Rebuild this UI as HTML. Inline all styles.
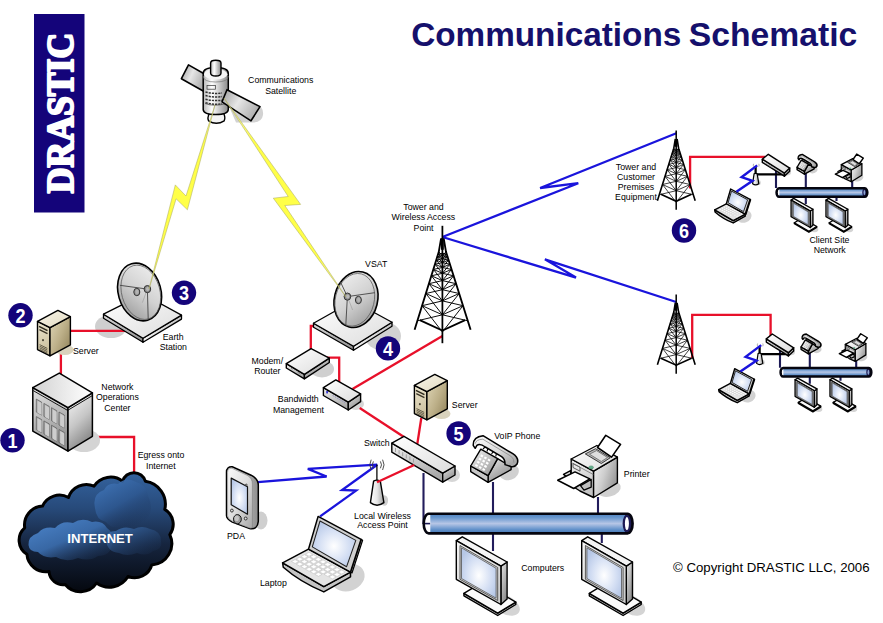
<!DOCTYPE html>
<html><head><meta charset="utf-8"><title>Communications Schematic</title>
<style>
html,body{margin:0;padding:0;background:#fff;}
svg{display:block}
text{font-family:"Liberation Sans",Arial,sans-serif;}
.lb{font-size:8.75px;fill:#000;text-anchor:middle}
.ls{font-size:8.75px;fill:#000;text-anchor:start}
.red{stroke:#e8102a;stroke-width:2.3;fill:none;stroke-linejoin:miter}
.blue{stroke:#1a14dc;stroke-width:2.3;fill:none;stroke-linejoin:miter}
.nv{stroke:#221c5c;stroke-width:2.1;fill:none}
.num{font-size:21px;font-weight:bold;fill:#fff;text-anchor:middle}
</style></head><body>
<svg width="883" height="623" viewBox="0 0 883 623">
<defs>
<linearGradient id="gTop" x1="0" y1="0" x2="1" y2="1"><stop offset="0" stop-color="#ffffff"/><stop offset="1" stop-color="#dcdcdc"/></linearGradient>
<linearGradient id="gL" x1="0" y1="0" x2="0.3" y2="1"><stop offset="0" stop-color="#f2f2f2"/><stop offset="1" stop-color="#a9a9a9"/></linearGradient>
<linearGradient id="gR" x1="0" y1="0" x2="0.6" y2="1"><stop offset="0" stop-color="#e8e8e8"/><stop offset="1" stop-color="#8c8c8c"/></linearGradient>
<linearGradient id="gSlabL" x1="0" y1="0" x2="1" y2="0"><stop offset="0" stop-color="#d8d8d8"/><stop offset="1" stop-color="#909090"/></linearGradient>
<linearGradient id="gSlabR" x1="0" y1="0" x2="1" y2="0"><stop offset="0" stop-color="#f4f4f4"/><stop offset="1" stop-color="#c4c4c4"/></linearGradient>
<linearGradient id="sTop" x1="0" y1="0" x2="1" y2="1"><stop offset="0" stop-color="#f8f5ea"/><stop offset="1" stop-color="#e2dac0"/></linearGradient>
<linearGradient id="sL" x1="0" y1="0" x2="0.2" y2="1"><stop offset="0" stop-color="#ece6d0"/><stop offset="1" stop-color="#cbbf9c"/></linearGradient>
<linearGradient id="sR" x1="0" y1="0" x2="1" y2="0.8"><stop offset="0" stop-color="#e0d7b8"/><stop offset="0.55" stop-color="#bdb089"/><stop offset="1" stop-color="#96885f"/></linearGradient>
<linearGradient id="gDish" x1="0" y1="1" x2="1" y2="0"><stop offset="0" stop-color="#8e8e8e"/><stop offset="0.5" stop-color="#d2d2d2"/><stop offset="1" stop-color="#f4f4f4"/></linearGradient>
<linearGradient id="gDish2" x1="0" y1="0" x2="1" y2="1"><stop offset="0" stop-color="#f4f4f4"/><stop offset="0.5" stop-color="#d2d2d2"/><stop offset="1" stop-color="#8e8e8e"/></linearGradient>
<linearGradient id="gPanel" x1="0" y1="0" x2="1" y2="0.5"><stop offset="0" stop-color="#9a9a9a"/><stop offset="0.5" stop-color="#e6e6e6"/><stop offset="1" stop-color="#b0b0b0"/></linearGradient>
<linearGradient id="gCyl" x1="0" y1="0" x2="1" y2="0"><stop offset="0" stop-color="#b8b8b8"/><stop offset="0.35" stop-color="#ffffff"/><stop offset="1" stop-color="#8a8a8a"/></linearGradient>
<linearGradient id="gBus" x1="0" y1="0" x2="0" y2="1"><stop offset="0" stop-color="#5082be"/><stop offset="0.2" stop-color="#6a98cf"/><stop offset="0.5" stop-color="#b6c6e6"/><stop offset="0.8" stop-color="#6291ca"/><stop offset="1" stop-color="#4677b4"/></linearGradient>
<linearGradient id="gBusS" x1="0" y1="0" x2="0" y2="1"><stop offset="0" stop-color="#3a588a"/><stop offset="0.5" stop-color="#8fa9d4"/><stop offset="1" stop-color="#34507f"/></linearGradient>
<radialGradient id="gScr" cx="0.5" cy="0.55" r="0.6"><stop offset="0" stop-color="#ffffff"/><stop offset="0.6" stop-color="#d3def3"/><stop offset="1" stop-color="#b6c7e6"/></radialGradient>
<linearGradient id="gCloud" x1="0" y1="0" x2="0" y2="1"><stop offset="0" stop-color="#34639f"/><stop offset="0.3" stop-color="#274a7a"/><stop offset="0.6" stop-color="#16253f"/><stop offset="1" stop-color="#05080f"/></linearGradient>
<linearGradient id="gCloudIn" x1="0.2" y1="0" x2="0.8" y2="1"><stop offset="0" stop-color="#4c7cba"/><stop offset="1" stop-color="#223d66"/></linearGradient>
<linearGradient id="gHand" x1="0" y1="0" x2="0.7" y2="1"><stop offset="0" stop-color="#fbfbfb"/><stop offset="0.6" stop-color="#dcdcdc"/><stop offset="1" stop-color="#a8a8a8"/></linearGradient>
<linearGradient id="gBez" x1="0" y1="0" x2="0.4" y2="1"><stop offset="0" stop-color="#f6f6f6"/><stop offset="1" stop-color="#cfcfcf"/></linearGradient>
<linearGradient id="gNocT" x1="0" y1="0.5" x2="1" y2="0.5"><stop offset="0" stop-color="#d2d2d2"/><stop offset="1" stop-color="#ffffff"/></linearGradient>
<linearGradient id="gNocL" x1="0" y1="0" x2="0.25" y2="1"><stop offset="0" stop-color="#e2e2e2"/><stop offset="0.5" stop-color="#bdbdbd"/><stop offset="1" stop-color="#8e8e8e"/></linearGradient>
<linearGradient id="gNocR" x1="0.2" y1="0" x2="0.6" y2="1"><stop offset="0" stop-color="#f4f4f4"/><stop offset="0.5" stop-color="#c6c6c6"/><stop offset="1" stop-color="#7e7e7e"/></linearGradient>
<linearGradient id="gPrL" x1="0" y1="0" x2="0.3" y2="1"><stop offset="0" stop-color="#f4f4f4"/><stop offset="1" stop-color="#c4c4c4"/></linearGradient>
<linearGradient id="gPrR" x1="0" y1="0.2" x2="1" y2="0.7"><stop offset="0" stop-color="#f0f0f0"/><stop offset="0.45" stop-color="#cdcdcd"/><stop offset="1" stop-color="#8f8f8f"/></linearGradient>
<linearGradient id="gPhone" x1="0" y1="0" x2="1" y2="1"><stop offset="0" stop-color="#f6f6f6"/><stop offset="1" stop-color="#8f8f8f"/></linearGradient>
<linearGradient id="gBeam" gradientUnits="userSpaceOnUse" x1="0" y1="98" x2="0" y2="298"><stop offset="0" stop-color="#f6f6c0"/><stop offset="0.22" stop-color="#ffff38"/><stop offset="0.8" stop-color="#ffff38"/><stop offset="1" stop-color="#f2f2b4"/></linearGradient>
<linearGradient id="gPda" x1="0" y1="0" x2="1" y2="1"><stop offset="0" stop-color="#fafafa"/><stop offset="0.5" stop-color="#dedede"/><stop offset="1" stop-color="#a8a8a8"/></linearGradient>
<linearGradient id="gPdaS" x1="0" y1="0" x2="1" y2="0"><stop offset="0" stop-color="#f0f0f0"/><stop offset="1" stop-color="#8e8e8e"/></linearGradient>
<linearGradient id="gCone" x1="0" y1="0" x2="1" y2="0"><stop offset="0" stop-color="#ffffff"/><stop offset="0.5" stop-color="#e6e6e6"/><stop offset="1" stop-color="#a0a0a0"/></linearGradient>
<linearGradient id="gCl1" x1="0" y1="0" x2="0.7" y2="1"><stop offset="0" stop-color="#4379bd"/><stop offset="0.55" stop-color="#2f5a94" stop-opacity="0.75"/><stop offset="1" stop-color="#17294a" stop-opacity="0"/></linearGradient>
<linearGradient id="gCl2" x1="0" y1="0" x2="0.9" y2="1"><stop offset="0" stop-color="#4d86cc"/><stop offset="0.5" stop-color="#3c6fb0" stop-opacity="0.9"/><stop offset="1" stop-color="#1c345a" stop-opacity="0.1"/></linearGradient>
<linearGradient id="gCl3" x1="0" y1="0" x2="1" y2="1"><stop offset="0" stop-color="#3f74b6" stop-opacity="0.95"/><stop offset="1" stop-color="#1c345a" stop-opacity="0.05"/></linearGradient>
</defs>
<rect width="883" height="623" fill="#fff"/>
<!-- banner -->
<rect x="34" y="14" width="50.5" height="198.5" fill="#14047a"/>
<text transform="translate(72.7,193.3) rotate(-90)" font-family="Liberation Serif,serif" style="font-family:'Liberation Serif',serif" font-weight="bold" font-size="38.6" fill="#fff" stroke="#fff" stroke-width="2.2" stroke-linejoin="round" textLength="160.5" lengthAdjust="spacingAndGlyphs">DRASTIC</text>
<!-- title -->
<text y="46.2" font-weight="bold" font-size="33.3" fill="#15106c"><tspan x="411.2">Communications </tspan><tspan x="688.7" textLength="168.6" lengthAdjust="spacingAndGlyphs">Schematic</tspan></text>
<ellipse cx="111" cy="326.5" rx="16" ry="11.5" fill="#cfcfcf" stroke="none" stroke-width="1" />
<ellipse cx="383" cy="336" rx="18" ry="14.5" fill="#d2d2d2" stroke="none" stroke-width="1" />
<ellipse cx="322" cy="369" rx="12" ry="8.5" fill="#d0d0d0" stroke="none" stroke-width="1" />
<ellipse cx="356" cy="404" rx="8" ry="6" fill="#d6d6d6" stroke="none" stroke-width="1" />
<ellipse cx="452" cy="475" rx="8" ry="7" fill="#d6d6d6" stroke="none" stroke-width="1" />
<!--LINES-->
<g class="red">
<path d="M70.6,330.8H126"/>
<path d="M60.9,350V375"/>
<path d="M90.6,437H134.1V472"/>
<path d="M314,326H310.8V350"/>
<path d="M326.7,357.6H339.2V382"/>
<path d="M352.5,389L442.4,336"/>
<path d="M359.7,408L404,437"/>
<path d="M421.3,418L417.3,444"/>
<path d="M690.1,188.5V156.9H765"/>
<path d="M692.2,358V314.8H770.6V337"/>
</g>
<g class="blue">
<path d="M442.4,237L578.3,183.2L540.1,188L676.3,133.2"/>
<path d="M442.4,237L576,277.6L544.9,259.3L676.2,302"/>
<path d="M257.8,482.1L326.6,476.5L307.8,468.9L377.2,464.7"/>
<path d="M320.1,516.4L356.1,490.6L342.1,490L377.2,464.7"/>
</g>
<g class="nv">
<path d="M423.5,473V524"/>
<path d="M493,482V513M493,534V551"/>
<path d="M598,497V513M601.8,534V543"/>
</g>
<g transform="translate(0,0)"><ellipse cx="64.6" cy="349.8" rx="9" ry="5.3" fill="#d9d3bd" stroke="none" stroke-width="1" /><polygon points="37.5,321.4 50,327.6 50,355.8 37.5,349.6" fill="url(#sL)" stroke="#000" stroke-width="1.4" stroke-linejoin="round" /><polygon points="50,327.6 70.4,316.7 70.4,344.9 50,355.8" fill="url(#sR)" stroke="#000" stroke-width="1.4" stroke-linejoin="round" /><polygon points="57.9,310.4 37.5,321.4 50,327.6 70.4,316.7" fill="url(#sTop)" stroke="#000" stroke-width="1.4" stroke-linejoin="round" /><polyline points="39,326.4 47.5,330.6" fill="none" stroke="#2e2a1e" stroke-width="1.6" /><polyline points="39.4,329.6 47.5,333.6" fill="none" stroke="#3a3426" stroke-width="1.3" /><ellipse cx="43" cy="340.2" rx="1" ry="1.1" fill="#4a4434" stroke="none" stroke-width="1" /><polyline points="39.6,344.6 47.3,348.4" fill="none" stroke="#4a4434" stroke-width="0.8" /><polyline points="39.6,346.2 47.3,350" fill="none" stroke="#4a4434" stroke-width="0.8" /><polyline points="39.6,347.8 47.3,351.6" fill="none" stroke="#4a4434" stroke-width="0.8" /><polyline points="39.6,349.4 47.3,353.2" fill="none" stroke="#4a4434" stroke-width="0.8" /></g>
<g transform="translate(376.9,64)"><ellipse cx="64.6" cy="349.8" rx="9" ry="5.3" fill="#d9d3bd" stroke="none" stroke-width="1" /><polygon points="37.5,321.4 50,327.6 50,355.8 37.5,349.6" fill="url(#sL)" stroke="#000" stroke-width="1.4" stroke-linejoin="round" /><polygon points="50,327.6 70.4,316.7 70.4,344.9 50,355.8" fill="url(#sR)" stroke="#000" stroke-width="1.4" stroke-linejoin="round" /><polygon points="57.9,310.4 37.5,321.4 50,327.6 70.4,316.7" fill="url(#sTop)" stroke="#000" stroke-width="1.4" stroke-linejoin="round" /><polyline points="39,326.4 47.5,330.6" fill="none" stroke="#2e2a1e" stroke-width="1.6" /><polyline points="39.4,329.6 47.5,333.6" fill="none" stroke="#3a3426" stroke-width="1.3" /><ellipse cx="43" cy="340.2" rx="1" ry="1.1" fill="#4a4434" stroke="none" stroke-width="1" /><polyline points="39.6,344.6 47.3,348.4" fill="none" stroke="#4a4434" stroke-width="0.8" /><polyline points="39.6,346.2 47.3,350" fill="none" stroke="#4a4434" stroke-width="0.8" /><polyline points="39.6,347.8 47.3,351.6" fill="none" stroke="#4a4434" stroke-width="0.8" /><polyline points="39.6,349.4 47.3,353.2" fill="none" stroke="#4a4434" stroke-width="0.8" /></g>
<ellipse cx="84" cy="440.5" rx="16" ry="11.5" fill="#d4d4d4" stroke="none" stroke-width="1" /><polygon points="32.8,387.6 68,407.6 68,451.1 32.8,431.1" fill="url(#gNocL)" stroke="#000" stroke-width="1.5" stroke-linejoin="round" /><polygon points="68,407.6 92.4,392.8 92.4,436.3 68,451.1" fill="url(#gNocR)" stroke="#000" stroke-width="1.5" stroke-linejoin="round" /><polygon points="59.3,373.1 32.8,387.6 68,407.6 92.4,392.8" fill="url(#gNocT)" stroke="#000" stroke-width="1.5" stroke-linejoin="round" /><polyline points="33.2,390.6 67.6,410.4 92,395.8" fill="none" stroke="#000" stroke-width="0.9" /><polygon points="36.3,399.1 41.6,402.1 41.6,415.1 36.3,412.1" fill="#a9a9a9" stroke="#5a5a5a" stroke-width="0.7" stroke-linejoin="round" /><polygon points="37.5,400.7 41.6,403.1 41.6,415.1 37.5,412.7" fill="#cdcdcd" stroke="none" stroke-width="0" stroke-linejoin="round" /><polygon points="43.9,403.4 49.2,406.4 49.2,419.4 43.9,416.4" fill="#a9a9a9" stroke="#5a5a5a" stroke-width="0.7" stroke-linejoin="round" /><polygon points="45.1,405 49.2,407.4 49.2,419.4 45.1,417" fill="#cdcdcd" stroke="none" stroke-width="0" stroke-linejoin="round" /><polygon points="51.5,407.7 56.7,410.7 56.7,423.7 51.5,420.7" fill="#a9a9a9" stroke="#5a5a5a" stroke-width="0.7" stroke-linejoin="round" /><polygon points="52.7,409.3 56.7,411.7 56.7,423.7 52.7,421.3" fill="#cdcdcd" stroke="none" stroke-width="0" stroke-linejoin="round" /><polygon points="59,412 64.3,415 64.3,428 59,425" fill="#a9a9a9" stroke="#5a5a5a" stroke-width="0.7" stroke-linejoin="round" /><polygon points="60.2,413.6 64.3,416 64.3,428 60.2,425.6" fill="#cdcdcd" stroke="none" stroke-width="0" stroke-linejoin="round" /><polygon points="36.3,416.6 41.6,419.6 41.6,432.6 36.3,429.6" fill="#a9a9a9" stroke="#5a5a5a" stroke-width="0.7" stroke-linejoin="round" /><polygon points="37.5,418.2 41.6,420.6 41.6,432.6 37.5,430.2" fill="#cdcdcd" stroke="none" stroke-width="0" stroke-linejoin="round" /><polygon points="43.9,420.9 49.2,423.9 49.2,436.9 43.9,433.9" fill="#a9a9a9" stroke="#5a5a5a" stroke-width="0.7" stroke-linejoin="round" /><polygon points="45.1,422.5 49.2,424.9 49.2,436.9 45.1,434.5" fill="#cdcdcd" stroke="none" stroke-width="0" stroke-linejoin="round" /><polygon points="51.5,425.2 56.7,428.2 56.7,441.2 51.5,438.2" fill="#a9a9a9" stroke="#5a5a5a" stroke-width="0.7" stroke-linejoin="round" /><polygon points="52.7,426.8 56.7,429.2 56.7,441.2 52.7,438.8" fill="#cdcdcd" stroke="none" stroke-width="0" stroke-linejoin="round" /><polygon points="59,429.5 64.3,432.5 64.3,445.5 59,442.5" fill="#a9a9a9" stroke="#5a5a5a" stroke-width="0.7" stroke-linejoin="round" /><polygon points="60.2,431.1 64.3,433.5 64.3,445.5 60.2,443.1" fill="#cdcdcd" stroke="none" stroke-width="0" stroke-linejoin="round" />
<polygon points="103.5,314.2 143,338.3 143,342.3 103.5,318.2" fill="url(#gSlabL)" stroke="#000" stroke-width="1.3" stroke-linejoin="round" /><polygon points="143,338.3 181.5,315.1 181.5,319.1 143,342.3" fill="url(#gSlabR)" stroke="#000" stroke-width="1.3" stroke-linejoin="round" /><polygon points="103.5,314.2 143.4,294.2 181.5,315.1 143,338.3" fill="url(#gTop)" stroke="#000" stroke-width="1.3" stroke-linejoin="round" />
<ellipse cx="139.6" cy="292" rx="21.3" ry="29.3" fill="url(#gDish)" stroke="#000" stroke-width="1.6" transform="rotate(-16 139.6 292)" /><ellipse cx="140.8" cy="292.3" rx="19.1" ry="27.7" fill="none" stroke="#555" stroke-width="0.7" transform="rotate(-16 140.8 292.3)" /><polyline points="147.4,289.1 119.9,285.3" fill="none" stroke="#444" stroke-width="0.9" /><polyline points="147.4,289.1 148.2,319" fill="none" stroke="#444" stroke-width="0.9" /><polyline points="147.4,289.1 142.4,302.6" fill="none" stroke="#999" stroke-width="0.6" /><ellipse cx="136.8" cy="292" rx="3" ry="3.7" fill="#9c9c9c" stroke="#333" stroke-width="1.0" /><ellipse cx="137.1" cy="291.8" rx="1.6" ry="2.2" fill="#b4b4b4" stroke="none" stroke-width="0" /><ellipse cx="147.4" cy="289.1" rx="3.3" ry="3.6" fill="#8d8d8d" stroke="#333" stroke-width="1.0" /><ellipse cx="147.7" cy="289.1" rx="1.7" ry="2" fill="#b9b9b9" stroke="none" stroke-width="0" />
<polygon points="313.5,323.2 353.5,346.3 353.5,350.3 313.5,327.2" fill="url(#gSlabL)" stroke="#000" stroke-width="1.3" stroke-linejoin="round" /><polygon points="353.5,346.3 392,322.2 392,326.2 353.5,350.3" fill="url(#gSlabR)" stroke="#000" stroke-width="1.3" stroke-linejoin="round" /><polygon points="313.5,323.2 353,301 392,322.2 353.5,346.3" fill="url(#gTop)" stroke="#000" stroke-width="1.3" stroke-linejoin="round" />
<ellipse cx="356" cy="299.5" rx="21.6" ry="28.3" fill="url(#gDish2)" stroke="#000" stroke-width="1.6" transform="rotate(14 356 299.5)" /><ellipse cx="354.8" cy="299.8" rx="19.4" ry="26.7" fill="none" stroke="#555" stroke-width="0.7" transform="rotate(14 354.8 299.8)" /><polyline points="347.4,296.6 340.4,281.8" fill="none" stroke="#444" stroke-width="0.9" /><polyline points="347.4,296.6 374.7,292.7" fill="none" stroke="#444" stroke-width="0.9" /><polyline points="347.4,296.6 345.8,325" fill="none" stroke="#444" stroke-width="0.9" /><polyline points="347.4,296.6 352.6,310" fill="none" stroke="#999" stroke-width="0.6" /><ellipse cx="358.4" cy="300" rx="3" ry="3.7" fill="#9c9c9c" stroke="#333" stroke-width="1.0" /><ellipse cx="358.7" cy="299.8" rx="1.6" ry="2.2" fill="#b4b4b4" stroke="none" stroke-width="0" /><ellipse cx="347.4" cy="296.6" rx="3.3" ry="3.6" fill="#8d8d8d" stroke="#333" stroke-width="1.0" /><ellipse cx="347.7" cy="296.6" rx="1.7" ry="2" fill="#b9b9b9" stroke="none" stroke-width="0" />
<path d="M228,104 L255,104.5 Q264,106 263,115 Q262,122.5 252,122.5 L236,122.5 Z" fill="#d2d2d2"/><polygon points="188.5,64.9 181.4,78.7 204.5,91.8 204.5,74" fill="url(#gPanel)" stroke="#000" stroke-width="1.6" stroke-linejoin="round" /><path d="M209.5,113 Q207,118 208.6,120.8 Q216.3,125.6 224.2,120.8 Q225.8,117.5 223.5,113 Z" fill="#f4f4f4" stroke="#000" stroke-width="1.4"/><path d="M203.2,73.5 V109.5 Q203.2,114.5 215.7,114.5 Q228.3,114.5 228.3,109.5 V73.5 Q228.3,67.6 215.7,67.6 Q203.2,67.6 203.2,73.5 Z" fill="url(#gCyl)" stroke="#000" stroke-width="1.5"/><path d="M203.2,76 Q203.2,82 215.7,82 Q228.3,82 228.3,76" fill="none" stroke="#777" stroke-width="0.7"/><ellipse cx="215.7" cy="74.3" rx="11.6" ry="5.2" fill="#f6f6f6" stroke="none" stroke-width="1" /><path d="M210.6,63 V73 Q210.6,76 215.8,76 Q221,76 221,73 V63 Q221,60.3 215.8,60.3 Q210.6,60.3 210.6,63 Z" fill="url(#gCyl)" stroke="#000" stroke-width="1.4"/><path d="M205.5,92 Q214,94.2 222,93" fill="none" stroke="#333" stroke-width="1.5" stroke-dasharray="2.2 1"/><path d="M205.5,95.6 Q214,97.8 222,96.6" fill="none" stroke="#333" stroke-width="1.5" stroke-dasharray="2.2 1"/><path d="M205.5,99.2 Q214,101.4 222,100.2" fill="none" stroke="#333" stroke-width="1.5" stroke-dasharray="2.2 1"/><path d="M205.5,102.8 Q214,105 222,103.8" fill="none" stroke="#333" stroke-width="1.5" stroke-dasharray="2.2 1"/><rect x="207" y="85.6" width="8.5" height="3.6" fill="none" stroke="#333" stroke-width="0.7"/><path d="M205,103.5 Q214,107 226.5,103.5" fill="none" stroke="#444" stroke-width="0.7"/><polygon points="227,89.7 222,101.8 251,120.8 260,106.6" fill="url(#gPanel)" stroke="#000" stroke-width="1.6" stroke-linejoin="round" />
<polygon points="286.3,363.6 304.4,374.4 304.4,378.8 286.3,368" fill="url(#gL)" stroke="#000" stroke-width="1.4" stroke-linejoin="round" /><polygon points="304.4,374.4 329.3,358.1 329.3,362.5 304.4,378.8" fill="url(#gR)" stroke="#000" stroke-width="1.4" stroke-linejoin="round" /><polygon points="311.1,348.7 286.3,363.6 304.4,374.4 329.3,358.1" fill="url(#gTop)" stroke="#000" stroke-width="1.4" stroke-linejoin="round" />
<polyline points="291,368.3 292.5,369.2" fill="none" stroke="#777" stroke-width="0.8" /><polyline points="297.5,372.2 300.5,374" fill="none" stroke="#777" stroke-width="0.8" />
<polygon points="323.4,387.7 348.3,402.2 348.3,410 323.4,395.5" fill="url(#gL)" stroke="#000" stroke-width="1.4" stroke-linejoin="round" /><polygon points="348.3,402.2 360.6,393.9 360.6,401.7 348.3,410" fill="url(#gR)" stroke="#000" stroke-width="1.4" stroke-linejoin="round" /><polygon points="335.8,379.9 323.4,387.7 348.3,402.2 360.6,393.9" fill="url(#gTop)" stroke="#000" stroke-width="1.4" stroke-linejoin="round" />
<rect x="326.2" y="391" width="1.8" height="2.4" fill="#3a3ad0"/><polyline points="332.5,395.4 345,402.6" fill="none" stroke="#8a8ab8" stroke-width="0.9" stroke-dasharray="1.6 1"/>
<polygon points="391.8,443.2 442.7,473.1 442.7,482.1 391.8,452.2" fill="url(#gL)" stroke="#000" stroke-width="1.4" stroke-linejoin="round" /><polygon points="442.7,473.1 455,466 455,475 442.7,482.1" fill="url(#gR)" stroke="#000" stroke-width="1.4" stroke-linejoin="round" /><polygon points="404,436.4 391.8,443.2 442.7,473.1 455,466" fill="url(#gTop)" stroke="#000" stroke-width="1.4" stroke-linejoin="round" />
<polyline points="395.5,448 395.5,452" fill="none" stroke="#9a9a9a" stroke-width="0.9" />
<polyline points="399.1,450.1 399.1,454.1" fill="none" stroke="#9a9a9a" stroke-width="0.9" />
<polyline points="402.7,452.2 402.7,456.2" fill="none" stroke="#9a9a9a" stroke-width="0.9" />
<polyline points="406.3,454.3 406.3,458.3" fill="none" stroke="#9a9a9a" stroke-width="0.9" />
<polyline points="409.9,456.4 409.9,460.4" fill="none" stroke="#9a9a9a" stroke-width="0.9" />
<polyline points="413.5,458.5 413.5,462.5" fill="none" stroke="#9a9a9a" stroke-width="0.9" />
<polyline points="442.4,225.8 442.4,343.2" fill="none" stroke="#000" stroke-width="1.7575" /><polyline points="441.1,238.3 438.8,251.8 414.6,329.8" fill="none" stroke="#000" stroke-width="1.85" stroke-linejoin="round"/><polyline points="443.7,238.3 446,251.8 470.6,329.8" fill="none" stroke="#000" stroke-width="1.85" stroke-linejoin="round"/><polyline points="442.4,238.3 442.4,249.8" fill="none" stroke="#000" stroke-width="2.7750000000000004" /><polyline points="419.8,320.2 442.4,330.6 465.1,320.2" fill="none" stroke="#000" stroke-width="1.85" /><path d="M438.8,251.8L442.4,255.8M442.4,253.3L438.1,254M446,251.8L442.4,255.8M442.4,253.3L446.7,254M438.1,254L442.4,255.8M442.4,255.8L446.7,254M438.1,254L442.4,258.9M442.4,255.8L437.3,256.7M446.7,254L442.4,258.9M442.4,255.8L447.5,256.7M437.3,256.7L442.4,258.9M442.4,258.9L447.5,256.7M437.3,256.7L442.4,262.7M442.4,258.9L436.2,260M447.5,256.7L442.4,262.7M442.4,258.9L448.6,260M436.2,260L442.4,262.7M442.4,262.7L448.6,260M436.2,260L442.4,267.5M442.4,262.7L435,264.2M448.6,260L442.4,267.5M442.4,262.7L449.9,264.2M435,264.2L442.4,267.5M442.4,267.5L449.9,264.2M435,264.2L442.4,273.3M442.4,267.5L433.4,269.4M449.9,264.2L442.4,273.3M442.4,267.5L451.5,269.4M433.4,269.4L442.4,273.3M442.4,273.3L451.5,269.4M433.4,269.4L442.4,280.6M442.4,273.3L431.4,275.8M451.5,269.4L442.4,280.6M442.4,273.3L453.6,275.8M431.4,275.8L442.4,280.6M442.4,280.6L453.6,275.8M431.4,275.8L442.4,289.7M442.4,280.6L428.9,283.7M453.6,275.8L442.4,289.7M442.4,280.6L456.1,283.7M428.9,283.7L442.4,289.7M442.4,289.7L456.1,283.7M428.9,283.7L442.4,300.9M442.4,289.7L425.9,293.5M456.1,283.7L442.4,300.9M442.4,289.7L459.2,293.5M425.9,293.5L442.4,300.9M442.4,300.9L459.2,293.5M425.9,293.5L442.4,314.8M442.4,300.9L422.1,305.7M459.2,293.5L442.4,314.8M442.4,300.9L463,305.7M422.1,305.7L442.4,314.8M442.4,314.8L463,305.7M422.1,305.7L442.4,332M442.4,314.8L417.4,320.8M463,305.7L442.4,332M442.4,314.8L467.8,320.8" stroke="#000" stroke-width="0.95" fill="none"/>
<polyline points="676.2,130.6 676.2,209.8" fill="none" stroke="#000" stroke-width="1.52" /><polyline points="675.3,139 673.8,148.2 657.4,200.8" fill="none" stroke="#000" stroke-width="1.6" stroke-linejoin="round"/><polyline points="677.1,139 678.6,148.2 695.2,200.8" fill="none" stroke="#000" stroke-width="1.6" stroke-linejoin="round"/><polyline points="676.2,139 676.2,146.8" fill="none" stroke="#000" stroke-width="2.4000000000000004" /><polyline points="660.9,194.3 676.2,201.3 691.5,194.3" fill="none" stroke="#000" stroke-width="1.6" /><path d="M673.8,148.2L676.2,150.9M676.2,149.2L673.3,149.6M678.6,148.2L676.2,150.9M676.2,149.2L679.1,149.6M673.3,149.6L676.2,150.9M676.2,150.9L679.1,149.6M673.3,149.6L676.2,152.9M676.2,150.9L672.7,151.4M679.1,149.6L676.2,152.9M676.2,150.9L679.7,151.4M672.7,151.4L676.2,152.9M676.2,152.9L679.7,151.4M672.7,151.4L676.2,155.5M676.2,152.9L672,153.7M679.7,151.4L676.2,155.5M676.2,152.9L680.4,153.7M672,153.7L676.2,155.5M676.2,155.5L680.4,153.7M672,153.7L676.2,158.7M676.2,155.5L671.2,156.5M680.4,153.7L676.2,158.7M676.2,155.5L681.3,156.5M671.2,156.5L676.2,158.7M676.2,158.7L681.3,156.5M671.2,156.5L676.2,162.7M676.2,158.7L670.1,160M681.3,156.5L676.2,162.7M676.2,158.7L682.4,160M670.1,160L676.2,162.7M676.2,162.7L682.4,160M670.1,160L676.2,167.6M676.2,162.7L668.8,164.3M682.4,160L676.2,167.6M676.2,162.7L683.7,164.3M668.8,164.3L676.2,167.6M676.2,167.6L683.7,164.3M668.8,164.3L676.2,173.7M676.2,167.6L667.1,169.7M683.7,164.3L676.2,173.7M676.2,167.6L685.4,169.7M667.1,169.7L676.2,173.7M676.2,173.7L685.4,169.7M667.1,169.7L676.2,181.3M676.2,173.7L665,176.3M685.4,169.7L676.2,181.3M676.2,173.7L687.5,176.3M665,176.3L676.2,181.3M676.2,181.3L687.5,176.3M665,176.3L676.2,190.7M676.2,181.3L662.5,184.5M687.5,176.3L676.2,190.7M676.2,181.3L690.1,184.5M662.5,184.5L676.2,190.7M676.2,190.7L690.1,184.5M662.5,184.5L676.2,202.3M676.2,190.7L659.3,194.7M690.1,184.5L676.2,202.3M676.2,190.7L693.3,194.7" stroke="#000" stroke-width="0.75" fill="none"/>
<polyline points="676.2,294.5 676.2,373.7" fill="none" stroke="#000" stroke-width="1.52" /><polyline points="675.3,302.9 673.8,312.1 657.4,364.7" fill="none" stroke="#000" stroke-width="1.6" stroke-linejoin="round"/><polyline points="677.1,302.9 678.6,312.1 695.2,364.7" fill="none" stroke="#000" stroke-width="1.6" stroke-linejoin="round"/><polyline points="676.2,302.9 676.2,310.7" fill="none" stroke="#000" stroke-width="2.4000000000000004" /><polyline points="660.9,358.2 676.2,365.2 691.5,358.2" fill="none" stroke="#000" stroke-width="1.6" /><path d="M673.8,312.1L676.2,314.8M676.2,313.1L673.3,313.5M678.6,312.1L676.2,314.8M676.2,313.1L679.1,313.5M673.3,313.5L676.2,314.8M676.2,314.8L679.1,313.5M673.3,313.5L676.2,316.8M676.2,314.8L672.7,315.3M679.1,313.5L676.2,316.8M676.2,314.8L679.7,315.3M672.7,315.3L676.2,316.8M676.2,316.8L679.7,315.3M672.7,315.3L676.2,319.4M676.2,316.8L672,317.6M679.7,315.3L676.2,319.4M676.2,316.8L680.4,317.6M672,317.6L676.2,319.4M676.2,319.4L680.4,317.6M672,317.6L676.2,322.6M676.2,319.4L671.2,320.4M680.4,317.6L676.2,322.6M676.2,319.4L681.3,320.4M671.2,320.4L676.2,322.6M676.2,322.6L681.3,320.4M671.2,320.4L676.2,326.6M676.2,322.6L670.1,323.9M681.3,320.4L676.2,326.6M676.2,322.6L682.4,323.9M670.1,323.9L676.2,326.6M676.2,326.6L682.4,323.9M670.1,323.9L676.2,331.5M676.2,326.6L668.8,328.2M682.4,323.9L676.2,331.5M676.2,326.6L683.7,328.2M668.8,328.2L676.2,331.5M676.2,331.5L683.7,328.2M668.8,328.2L676.2,337.6M676.2,331.5L667.1,333.6M683.7,328.2L676.2,337.6M676.2,331.5L685.4,333.6M667.1,333.6L676.2,337.6M676.2,337.6L685.4,333.6M667.1,333.6L676.2,345.2M676.2,337.6L665,340.2M685.4,333.6L676.2,345.2M676.2,337.6L687.5,340.2M665,340.2L676.2,345.2M676.2,345.2L687.5,340.2M665,340.2L676.2,354.6M676.2,345.2L662.5,348.4M687.5,340.2L676.2,354.6M676.2,345.2L690.1,348.4M662.5,348.4L676.2,354.6M676.2,354.6L690.1,348.4M662.5,348.4L676.2,366.2M676.2,354.6L659.3,358.6M690.1,348.4L676.2,366.2M676.2,354.6L693.3,358.6" stroke="#000" stroke-width="0.75" fill="none"/>
<ellipse cx="261" cy="520.5" rx="6.5" ry="9" fill="#cfcfcf" stroke="none" stroke-width="1" /><path d="M226.5,472.3 Q226.5,466.5 232.3,466.8 L251.1,475.2 Q258.3,478.8 258.3,485.3 L258.3,521.4 Q257.6,530 249.6,528.6 L232.3,522.1 Q226.5,519.2 226.5,515.6 Z" fill="url(#gPdaS)" stroke="#000" stroke-width="1.5"/><path d="M227.6,472.6 Q227.6,468 232,468.3 L247.3,475.4 Q252.4,478.2 252.4,484 L252.4,527.8 Q250.5,528.6 248.5,527.6 L232.3,521.2 Q227.6,518.8 227.6,515.6 Z" fill="url(#gPda)" stroke="#777" stroke-width="0.5"/><polygon points="231.2,478.1 247.5,486.7 247.5,514.2 231.2,504.8" fill="url(#gScr)" stroke="#111" stroke-width="1.2000000000000002" stroke-linejoin="round" /><ellipse cx="246.3" cy="485" rx="0.9" ry="0.9" fill="#ddd" stroke="#111" stroke-width="0.7" /><ellipse cx="231.9" cy="510.6" rx="1.4" ry="1.5" fill="#e0e0e0" stroke="#111" stroke-width="0.8" /><ellipse cx="245.7" cy="518.5" rx="1.4" ry="1.5" fill="#e0e0e0" stroke="#111" stroke-width="0.8" /><ellipse cx="237.4" cy="519.2" rx="3.9" ry="4.6" fill="#9a9a9a" stroke="#111" stroke-width="1.0" /><ellipse cx="236.7" cy="518.2" rx="2.2" ry="2.8" fill="#c6c6c6" stroke="none" stroke-width="0" />
<ellipse cx="348" cy="577.5" rx="17" ry="13.5" fill="#d2d2d2" stroke="none" stroke-width="0" transform="rotate(-20 348 577.5)" /><path d="M282.6,562.9 L283.3,567.3 Q300,582 323.8,591.9 L350.5,576.8 L350.5,572.1 L323.8,586.6 Z" fill="#c4c4c4" stroke="#000" stroke-width="1.5" stroke-linejoin="round"/><polygon points="308.5,549.2 282.6,562.9 323.8,586.6 350.5,572.1" fill="#e4e4e4" stroke="#000" stroke-width="1.5" stroke-linejoin="round" /><polygon points="309,552.3 312.6,554.3 309,556.2 305.4,554.2" fill="#ffffff" stroke="#b4b4b4" stroke-width="0.45" stroke-linejoin="round" /><polygon points="313.7,554.8 317.3,556.8 313.7,558.7 310,556.8" fill="#ffffff" stroke="#b4b4b4" stroke-width="0.45" stroke-linejoin="round" /><polygon points="318.3,557.4 322,559.4 318.4,561.3 314.7,559.3" fill="#ffffff" stroke="#b4b4b4" stroke-width="0.45" stroke-linejoin="round" /><polygon points="323,559.9 326.6,561.9 323,563.8 319.4,561.8" fill="#ffffff" stroke="#b4b4b4" stroke-width="0.45" stroke-linejoin="round" /><polygon points="327.7,562.5 331.3,564.5 327.7,566.4 324,564.4" fill="#ffffff" stroke="#b4b4b4" stroke-width="0.45" stroke-linejoin="round" /><polygon points="332.3,565 336,567 332.4,568.9 328.7,566.9" fill="#ffffff" stroke="#b4b4b4" stroke-width="0.45" stroke-linejoin="round" /><polygon points="337,567.6 340.6,569.6 337,571.5 333.4,569.5" fill="#ffffff" stroke="#b4b4b4" stroke-width="0.45" stroke-linejoin="round" /><polygon points="341.7,570.1 345.3,572.1 341.7,574 338,572" fill="#ffffff" stroke="#b4b4b4" stroke-width="0.45" stroke-linejoin="round" /><polygon points="304.4,554.7 308,556.7 304.4,558.6 300.8,556.7" fill="#ffffff" stroke="#b4b4b4" stroke-width="0.45" stroke-linejoin="round" /><polygon points="309,557.3 312.7,559.3 309.1,561.2 305.4,559.2" fill="#ffffff" stroke="#b4b4b4" stroke-width="0.45" stroke-linejoin="round" /><polygon points="313.7,559.8 317.3,561.8 313.7,563.7 310.1,561.7" fill="#ffffff" stroke="#b4b4b4" stroke-width="0.45" stroke-linejoin="round" /><polygon points="318.4,562.4 322,564.4 318.4,566.3 314.8,564.3" fill="#ffffff" stroke="#b4b4b4" stroke-width="0.45" stroke-linejoin="round" /><polygon points="323,564.9 326.7,566.9 323.1,568.8 319.4,566.8" fill="#ffffff" stroke="#b4b4b4" stroke-width="0.45" stroke-linejoin="round" /><polygon points="327.7,567.5 331.3,569.5 327.7,571.4 324.1,569.4" fill="#ffffff" stroke="#b4b4b4" stroke-width="0.45" stroke-linejoin="round" /><polygon points="332.4,570 336,572 332.4,573.9 328.8,571.9" fill="#ffffff" stroke="#b4b4b4" stroke-width="0.45" stroke-linejoin="round" /><polygon points="337,572.6 340.7,574.5 337.1,576.5 333.4,574.5" fill="#ffffff" stroke="#b4b4b4" stroke-width="0.45" stroke-linejoin="round" /><polygon points="299.7,557.2 303.4,559.2 299.8,561.1 296.1,559.1" fill="#ffffff" stroke="#b4b4b4" stroke-width="0.45" stroke-linejoin="round" /><polygon points="304.4,559.7 308,561.7 304.4,563.6 300.8,561.6" fill="#ffffff" stroke="#b4b4b4" stroke-width="0.45" stroke-linejoin="round" /><polygon points="309.1,562.3 312.7,564.3 309.1,566.2 305.5,564.2" fill="#ffffff" stroke="#b4b4b4" stroke-width="0.45" stroke-linejoin="round" /><polygon points="313.7,564.8 317.4,566.8 313.8,568.7 310.1,566.7" fill="#ffffff" stroke="#b4b4b4" stroke-width="0.45" stroke-linejoin="round" /><polygon points="318.4,567.4 322,569.4 318.4,571.3 314.8,569.3" fill="#ffffff" stroke="#b4b4b4" stroke-width="0.45" stroke-linejoin="round" /><polygon points="323.1,569.9 326.7,571.9 323.1,573.8 319.5,571.8" fill="#ffffff" stroke="#b4b4b4" stroke-width="0.45" stroke-linejoin="round" /><polygon points="327.7,572.5 331.4,574.4 327.8,576.4 324.1,574.4" fill="#ffffff" stroke="#b4b4b4" stroke-width="0.45" stroke-linejoin="round" /><polygon points="332.4,575 336,577 332.4,578.9 328.8,576.9" fill="#ffffff" stroke="#b4b4b4" stroke-width="0.45" stroke-linejoin="round" /><polygon points="295.1,559.6 298.8,561.6 295.1,563.5 291.5,561.5" fill="#ffffff" stroke="#b4b4b4" stroke-width="0.45" stroke-linejoin="round" /><polygon points="299.8,562.2 303.4,564.2 299.8,566.1 296.2,564.1" fill="#ffffff" stroke="#b4b4b4" stroke-width="0.45" stroke-linejoin="round" /><polygon points="304.4,564.7 308.1,566.7 304.5,568.6 300.8,566.6" fill="#ffffff" stroke="#b4b4b4" stroke-width="0.45" stroke-linejoin="round" /><polygon points="309.1,567.3 312.8,569.3 309.1,571.2 305.5,569.2" fill="#ffffff" stroke="#b4b4b4" stroke-width="0.45" stroke-linejoin="round" /><polygon points="313.8,569.8 317.4,571.8 313.8,573.7 310.2,571.7" fill="#ffffff" stroke="#b4b4b4" stroke-width="0.45" stroke-linejoin="round" /><polygon points="318.4,572.4 322.1,574.3 318.5,576.3 314.8,574.3" fill="#ffffff" stroke="#b4b4b4" stroke-width="0.45" stroke-linejoin="round" /><polygon points="361.1,539.3 362.6,540.3 352,573 350.5,572.1" fill="#999" stroke="#000" stroke-width="1.2000000000000002" stroke-linejoin="round" /><polygon points="318.1,516.4 361.1,539.3 350.5,572.1 308.5,549.2" fill="#d0d0d0" stroke="#000" stroke-width="1.5" stroke-linejoin="round" /><polygon points="320,521 355.8,540.4 346.6,566.7 312.3,546.9" fill="url(#gScr)" stroke="#222" stroke-width="1.0499999999999998" stroke-linejoin="round" />
<path d="M428.7,513.8 H627.6 A5,9.8 0 0 1 627.6,533.4 H428.7 A5,9.8 0 0 1 428.7,513.8 Z" fill="#fff" stroke="none"/><rect x="430.3" y="513.8" width="197.3" height="19.6" fill="url(#gBus)"/><path d="M423.7,523.6 H430.1" stroke="#1c1a55" stroke-width="1.6" fill="none"/><ellipse cx="627.6" cy="523.6" rx="5" ry="9.8" fill="#1c1a55" stroke="none" stroke-width="1" /><ellipse cx="626.9" cy="523.6" rx="2" ry="6.5" fill="#ffffff" stroke="none" stroke-width="1" /><path d="M428.7,513.8 H627.6 A5,9.8 0 0 1 627.6,533.4 H428.7 A5,9.8 0 0 1 428.7,513.8 Z" fill="none" stroke="#05050f" stroke-width="2.6"/>
<ellipse cx="506.3" cy="605.2" rx="14.5" ry="9" fill="#d4d4d4" stroke="none" stroke-width="0" transform="rotate(28 506.3 605.2)" /><polygon points="463.9,593.4 497.7,613.1 515.8,602.1 515.8,604.5 497.7,615.5 463.9,595.8" fill="#bdbdbd" stroke="#000" stroke-width="1.4" stroke-linejoin="round" /><polygon points="463.9,593.4 497.7,613.1 515.8,602.1 482,582.4" fill="#fbfbfb" stroke="#000" stroke-width="1.4" stroke-linejoin="round" /><polygon points="500.9,566.2 507.1,562 507.1,599 500.9,604.5" fill="url(#gR)" stroke="#000" stroke-width="1.4" stroke-linejoin="round" /><polygon points="456.3,540.7 462.3,536.8 507.1,562 500.9,566.2" fill="#f4f4f4" stroke="#000" stroke-width="1.4" stroke-linejoin="round" /><polygon points="456.3,540.7 500.9,566.2 500.9,604.5 456.3,579.3" fill="url(#gBez)" stroke="#000" stroke-width="1.4" stroke-linejoin="round" /><polygon points="460,545.5 497.7,567.5 497.7,600.5 460,579.3" fill="#d6d6d6" stroke="#333" stroke-width="0.77" stroke-linejoin="round" /><polygon points="461.5,547.8 496.1,568.3 496.1,598.2 461.5,578.5" fill="url(#gScr)" stroke="#444" stroke-width="0.7" stroke-linejoin="round" />
<g transform="translate(125.4,0)"><ellipse cx="506.3" cy="605.2" rx="14.5" ry="9" fill="#d4d4d4" stroke="none" stroke-width="0" transform="rotate(28 506.3 605.2)" /><polygon points="463.9,593.4 497.7,613.1 515.8,602.1 515.8,604.5 497.7,615.5 463.9,595.8" fill="#bdbdbd" stroke="#000" stroke-width="1.4" stroke-linejoin="round" /><polygon points="463.9,593.4 497.7,613.1 515.8,602.1 482,582.4" fill="#fbfbfb" stroke="#000" stroke-width="1.4" stroke-linejoin="round" /><polygon points="500.9,566.2 507.1,562 507.1,599 500.9,604.5" fill="url(#gR)" stroke="#000" stroke-width="1.4" stroke-linejoin="round" /><polygon points="456.3,540.7 462.3,536.8 507.1,562 500.9,566.2" fill="#f4f4f4" stroke="#000" stroke-width="1.4" stroke-linejoin="round" /><polygon points="456.3,540.7 500.9,566.2 500.9,604.5 456.3,579.3" fill="url(#gBez)" stroke="#000" stroke-width="1.4" stroke-linejoin="round" /><polygon points="460,545.5 497.7,567.5 497.7,600.5 460,579.3" fill="#d6d6d6" stroke="#333" stroke-width="0.77" stroke-linejoin="round" /><polygon points="461.5,547.8 496.1,568.3 496.1,598.2 461.5,578.5" fill="url(#gScr)" stroke="#444" stroke-width="0.7" stroke-linejoin="round" /></g>
<ellipse cx="509" cy="472" rx="10" ry="8" fill="#d0d0d0" stroke="none" stroke-width="0" transform="rotate(-20 509 472)" /><polygon points="497.6,458.7 511.1,466.6 511.1,469.6 488.1,482.3 488.1,475.6" fill="url(#gR)" stroke="#000" stroke-width="1.4" stroke-linejoin="round" /><polygon points="470.7,466 488.1,475.6 488.1,482.3 470.7,471.6" fill="#c8c8c8" stroke="#000" stroke-width="1.4" stroke-linejoin="round" /><polygon points="480.8,449.2 497.6,458.7 488.1,475.6 470.7,466" fill="url(#gPhone)" stroke="#000" stroke-width="1.4" stroke-linejoin="round" /><polygon points="481.2,454.3 483.4,455.6 482.4,457.4 480.2,456.2" fill="#fff" stroke="none" stroke-width="0" stroke-linejoin="round" /><polygon points="484.8,456.4 487,457.6 486,459.5 483.8,458.2" fill="#fff" stroke="none" stroke-width="0" stroke-linejoin="round" /><polygon points="488.4,458.4 490.6,459.7 489.6,461.5 487.4,460.3" fill="#fff" stroke="none" stroke-width="0" stroke-linejoin="round" /><polygon points="479.4,457.5 481.6,458.8 480.6,460.6 478.4,459.4" fill="#fff" stroke="none" stroke-width="0" stroke-linejoin="round" /><polygon points="483.1,459.6 485.2,460.8 484.2,462.7 482.1,461.4" fill="#fff" stroke="none" stroke-width="0" stroke-linejoin="round" /><polygon points="486.6,461.6 488.8,462.9 487.8,464.7 485.6,463.5" fill="#fff" stroke="none" stroke-width="0" stroke-linejoin="round" /><polygon points="477.7,460.7 479.9,461.9 478.9,463.8 476.7,462.6" fill="#fff" stroke="none" stroke-width="0" stroke-linejoin="round" /><polygon points="481.3,462.8 483.5,464 482.5,465.9 480.3,464.6" fill="#fff" stroke="none" stroke-width="0" stroke-linejoin="round" /><polygon points="484.9,464.8 487.1,466.1 486.1,467.9 483.9,466.7" fill="#fff" stroke="none" stroke-width="0" stroke-linejoin="round" /><polygon points="475.9,463.9 478.1,465.2 477.1,467 474.9,465.8" fill="#fff" stroke="none" stroke-width="0" stroke-linejoin="round" /><polygon points="479.6,466 481.8,467.2 480.8,469.1 478.6,467.8" fill="#fff" stroke="none" stroke-width="0" stroke-linejoin="round" /><polygon points="483.1,468 485.3,469.3 484.3,471.1 482.1,469.9" fill="#fff" stroke="none" stroke-width="0" stroke-linejoin="round" /><path d="M483,449 L485.5,446.5 L488,448 L487,451.5 M491.5,453.8 L493.8,451.2 L496.5,452.8 L495.8,456.5" fill="none" stroke="#000" stroke-width="1.1"/><path d="M473.3,445.6 Q472.6,437 483,435.7 L512.8,453.7 Q519.8,458.5 516.9,464.3 Q514.5,467.6 510.8,466.5 L505,464.6 Q505.4,459.4 501.6,456.7 L485.3,447 Q480,443.2 476.9,445.4 L475.2,448.3 Z" fill="url(#gHand)" stroke="#000" stroke-width="1.5" stroke-linejoin="round"/><path d="M475.3,443.6 Q476,439.5 482.8,439.2 L510.8,456.1 Q514.6,459 513.8,462.6" fill="none" stroke="#8a8a8a" stroke-width="0.8"/>
<ellipse cx="609" cy="489" rx="12" ry="7.5" fill="#d0d0d0" stroke="none" stroke-width="0" transform="rotate(-15 609 489)" /><polygon points="563.5,474.4 570.6,470.6 571.2,480" fill="#d8d8d8" stroke="#000" stroke-width="1.4" stroke-linejoin="round" /><polygon points="571.2,459 593.6,471.2 593.6,497.5 580,491 573,486.5 571.2,484" fill="url(#gPrL)" stroke="#000" stroke-width="1.4" stroke-linejoin="round" /><polygon points="593.6,471.2 617.4,457.1 617.4,482.8 593.6,497.5" fill="url(#gPrR)" stroke="#000" stroke-width="1.4" stroke-linejoin="round" /><polygon points="571.2,459 596.9,445.5 617.4,457.1 593.6,471.2" fill="url(#gTop)" stroke="#000" stroke-width="1.4" stroke-linejoin="round" /><polygon points="573,463.5 580,467.2 580,471.2 573,467.5" fill="#e6e6e6" stroke="#444" stroke-width="0.84" stroke-linejoin="round" /><polyline points="571.2,462.5 593.6,474.7" fill="none" stroke="#666" stroke-width="0.7" /><polygon points="585.3,453.9 595.6,448.7 610.3,457.7 601.3,463.5" fill="#b9b9b9" stroke="#333" stroke-width="0.9799999999999999" stroke-linejoin="round" /><polygon points="589.5,454.2 596.5,450.6 607.5,457.5 601.3,461.5" fill="#dedede" stroke="#555" stroke-width="0.7" stroke-linejoin="round" /><polygon points="597.5,447.5 605.8,435.3 620.6,444.3 611.6,457.1" fill="#fff" stroke="#000" stroke-width="1.54" stroke-linejoin="round" /><ellipse cx="591.1" cy="467.4" rx="2.4" ry="1.5" fill="#63b08c" stroke="#3c7a5c" stroke-width="0.5" /><polygon points="580.5,485.6 591.2,479.4 591.2,487.2 584,490.2" fill="#bdbdbd" stroke="#000" stroke-width="1.26" stroke-linejoin="round" /><polygon points="557.7,480.2 575,471.9 589.8,478.9 573.7,488.5" fill="#fff" stroke="#000" stroke-width="1.54" stroke-linejoin="round" />
<path d="M122.6,481.2 A11.8,11.8 0 0 1 145.3,481.2 A23.3,23.3 0 0 1 164.8,509.4 A17.5,17.5 0 0 1 169.8,534.7 A21.4,21.4 0 0 1 151.8,565 A17.9,17.9 0 0 1 128,576.5 A21.7,21.7 0 0 1 96.6,583 A19.5,19.5 0 0 1 65.2,584.5 A14.1,14.1 0 0 1 49,571.5 A19,19 0 0 1 26.9,554.2 A16.5,16.5 0 0 1 24.7,527.8 A19,19 0 0 1 42.5,506.1 A18.6,18.6 0 0 1 68.5,497.5 A18.9,18.9 0 0 1 94,486.2 A19.7,19.7 0 0 1 122.6,481.2Z" fill="url(#gCloud)" stroke="#000" stroke-width="3" stroke-linejoin="round"/><path d="M95,508 Q92,494 104,490 Q108,482 118,484 Q126,476 136,482 Q146,484 148,496 Q154,508 148,518 Q144,526 136,524 Q130,530 122,526 Q112,530 106,522 Q96,520 95,508 Z" fill="url(#gCl1)"/><path d="M28.5,545 Q28,536 38,533 Q44,526 55,528 Q62,520 73,523 Q82,517 92,522 Q102,520 107,528 Q116,534 112,545 Q110,556 98,556 Q90,562 78,558 Q66,563 56,557 Q44,559 38,552 Q29,552 28.5,545 Z" fill="url(#gCl2)"/><path d="M106,540 Q106,531 116,531 Q124,525 134,529 Q142,525 150,529 Q161,531 161,541 Q163,549 153,551 Q147,557 137,553 Q127,557 119,553 Q107,552 106,540 Z" fill="url(#gCl3)"/>
<g transform="translate(0,0)"><path d="M776,169V188 M805.8,173V188 M805.8,197V204 M852.2,181V188 M836.5,197V201" stroke="#1c1a55" stroke-width="2.1" fill="none"/><path d="M755.6,166.5V174.4H784.6" stroke="#000" stroke-width="2.2" fill="none"/><ellipse cx="787" cy="172.5" rx="4" ry="3" fill="#d6d6d6" stroke="none" stroke-width="1" /><polygon points="762.3,159.2 784.4,173 784.4,176.2 762.3,162.4" fill="url(#gL)" stroke="#000" stroke-width="1.4" stroke-linejoin="round" /><polygon points="784.4,173 789.7,168.1 789.7,171.3 784.4,176.2" fill="url(#gR)" stroke="#000" stroke-width="1.4" stroke-linejoin="round" /><polygon points="768.3,154.3 762.3,159.2 784.4,173 789.7,168.1" fill="url(#gTop)" stroke="#000" stroke-width="1.4" stroke-linejoin="round" /><polyline points="764.6,161.6 764.6,163.2" fill="none" stroke="#999" stroke-width="0.6" /><polyline points="766.3,162.8 766.3,164.3" fill="none" stroke="#999" stroke-width="0.6" /><polyline points="768,163.9 768,165.5" fill="none" stroke="#999" stroke-width="0.6" /><polyline points="769.7,165 769.7,166.6" fill="none" stroke="#999" stroke-width="0.6" /><polyline points="771.4,166.2 771.4,167.8" fill="none" stroke="#999" stroke-width="0.6" /><path d="M779.1,188.3 H864.8 A2.5,4.2 0 0 1 864.8,196.8 H779.1 A2.5,4.2 0 0 1 779.1,188.3 Z" fill="#fff" stroke="none"/><rect x="779.4" y="188.3" width="85.4" height="8.4" fill="url(#gBus)"/><ellipse cx="864.8" cy="192.6" rx="2.5" ry="4.2" fill="#1c1a55" stroke="none" stroke-width="1" /><ellipse cx="864.4" cy="192.6" rx="0.9" ry="2.5" fill="#8ea6d0" stroke="none" stroke-width="1" /><path d="M779.1,188.3 H864.8 A2.5,4.2 0 0 1 864.8,196.8 H779.1 A2.5,4.2 0 0 1 779.1,188.3 Z" fill="none" stroke="#05050f" stroke-width="2.5"/><g transform="translate(796.7,154.1) scale(0.425) translate(-469.9,-435)"><ellipse cx="509" cy="472" rx="10" ry="8" fill="#d0d0d0" stroke="none" stroke-width="0" transform="rotate(-20 509 472)" /><polygon points="497.6,458.7 511.1,466.6 511.1,469.6 488.1,482.3 488.1,475.6" fill="url(#gR)" stroke="#000" stroke-width="3.1764705882352944" stroke-linejoin="round" /><polygon points="470.7,466 488.1,475.6 488.1,482.3 470.7,471.6" fill="#c8c8c8" stroke="#000" stroke-width="3.1764705882352944" stroke-linejoin="round" /><polygon points="480.8,449.2 497.6,458.7 488.1,475.6 470.7,466" fill="url(#gPhone)" stroke="#000" stroke-width="3.1764705882352944" stroke-linejoin="round" /><polygon points="481.2,454.3 483.4,455.6 482.4,457.4 480.2,456.2" fill="#fff" stroke="none" stroke-width="0" stroke-linejoin="round" /><polygon points="484.8,456.4 487,457.6 486,459.5 483.8,458.2" fill="#fff" stroke="none" stroke-width="0" stroke-linejoin="round" /><polygon points="488.4,458.4 490.6,459.7 489.6,461.5 487.4,460.3" fill="#fff" stroke="none" stroke-width="0" stroke-linejoin="round" /><polygon points="479.4,457.5 481.6,458.8 480.6,460.6 478.4,459.4" fill="#fff" stroke="none" stroke-width="0" stroke-linejoin="round" /><polygon points="483.1,459.6 485.2,460.8 484.2,462.7 482.1,461.4" fill="#fff" stroke="none" stroke-width="0" stroke-linejoin="round" /><polygon points="486.6,461.6 488.8,462.9 487.8,464.7 485.6,463.5" fill="#fff" stroke="none" stroke-width="0" stroke-linejoin="round" /><polygon points="477.7,460.7 479.9,461.9 478.9,463.8 476.7,462.6" fill="#fff" stroke="none" stroke-width="0" stroke-linejoin="round" /><polygon points="481.3,462.8 483.5,464 482.5,465.9 480.3,464.6" fill="#fff" stroke="none" stroke-width="0" stroke-linejoin="round" /><polygon points="484.9,464.8 487.1,466.1 486.1,467.9 483.9,466.7" fill="#fff" stroke="none" stroke-width="0" stroke-linejoin="round" /><polygon points="475.9,463.9 478.1,465.2 477.1,467 474.9,465.8" fill="#fff" stroke="none" stroke-width="0" stroke-linejoin="round" /><polygon points="479.6,466 481.8,467.2 480.8,469.1 478.6,467.8" fill="#fff" stroke="none" stroke-width="0" stroke-linejoin="round" /><polygon points="483.1,468 485.3,469.3 484.3,471.1 482.1,469.9" fill="#fff" stroke="none" stroke-width="0" stroke-linejoin="round" /><path d="M483,449 L485.5,446.5 L488,448 L487,451.5 M491.5,453.8 L493.8,451.2 L496.5,452.8 L495.8,456.5" fill="none" stroke="#000" stroke-width="2.5"/><path d="M473.3,445.6 Q472.6,437 483,435.7 L512.8,453.7 Q519.8,458.5 516.9,464.3 Q514.5,467.6 510.8,466.5 L505,464.6 Q505.4,459.4 501.6,456.7 L485.3,447 Q480,443.2 476.9,445.4 L475.2,448.3 Z" fill="url(#gHand)" stroke="#000" stroke-width="3.5" stroke-linejoin="round"/><path d="M475.3,443.6 Q476,439.5 482.8,439.2 L510.8,456.1 Q514.6,459 513.8,462.6" fill="none" stroke="#8a8a8a" stroke-width="1.7"/></g><g transform="translate(835,154.1) scale(0.445) translate(-557,-435.4)"><ellipse cx="609" cy="489" rx="12" ry="7.5" fill="#d0d0d0" stroke="none" stroke-width="0" transform="rotate(-15 609 489)" /><polygon points="563.5,474.4 570.6,470.6 571.2,480" fill="#d8d8d8" stroke="#000" stroke-width="2.9213483146067416" stroke-linejoin="round" /><polygon points="571.2,459 593.6,471.2 593.6,497.5 580,491 573,486.5 571.2,484" fill="url(#gPrL)" stroke="#000" stroke-width="2.9213483146067416" stroke-linejoin="round" /><polygon points="593.6,471.2 617.4,457.1 617.4,482.8 593.6,497.5" fill="url(#gPrR)" stroke="#000" stroke-width="2.9213483146067416" stroke-linejoin="round" /><polygon points="571.2,459 596.9,445.5 617.4,457.1 593.6,471.2" fill="url(#gTop)" stroke="#000" stroke-width="2.9213483146067416" stroke-linejoin="round" /><polygon points="573,463.5 580,467.2 580,471.2 573,467.5" fill="#e6e6e6" stroke="#444" stroke-width="1.752808988764045" stroke-linejoin="round" /><polyline points="571.2,462.5 593.6,474.7" fill="none" stroke="#666" stroke-width="1.4606741573033708" /><polygon points="585.3,453.9 595.6,448.7 610.3,457.7 601.3,463.5" fill="#b9b9b9" stroke="#333" stroke-width="2.044943820224719" stroke-linejoin="round" /><polygon points="589.5,454.2 596.5,450.6 607.5,457.5 601.3,461.5" fill="#dedede" stroke="#555" stroke-width="1.4606741573033708" stroke-linejoin="round" /><polygon points="597.5,447.5 605.8,435.3 620.6,444.3 611.6,457.1" fill="#fff" stroke="#000" stroke-width="3.213483146067416" stroke-linejoin="round" /><ellipse cx="591.1" cy="467.4" rx="2.4" ry="1.5" fill="#63b08c" stroke="#3c7a5c" stroke-width="0.5" /><polygon points="580.5,485.6 591.2,479.4 591.2,487.2 584,490.2" fill="#bdbdbd" stroke="#000" stroke-width="2.6292134831460676" stroke-linejoin="round" /><polygon points="557.7,480.2 575,471.9 589.8,478.9 573.7,488.5" fill="#fff" stroke="#000" stroke-width="3.213483146067416" stroke-linejoin="round" /></g><g transform="translate(790.7,198.4) scale(0.43) translate(-455.4,-536.8)"><ellipse cx="506.3" cy="605.2" rx="14.5" ry="9" fill="#d4d4d4" stroke="none" stroke-width="0" transform="rotate(28 506.3 605.2)" /><polygon points="463.9,593.4 497.7,613.1 515.8,602.1 515.8,604.5 497.7,615.5 463.9,595.8" fill="#bdbdbd" stroke="#000" stroke-width="3.1395348837209305" stroke-linejoin="round" /><polygon points="463.9,593.4 497.7,613.1 515.8,602.1 482,582.4" fill="#fbfbfb" stroke="#000" stroke-width="3.1395348837209305" stroke-linejoin="round" /><polygon points="500.9,566.2 507.1,562 507.1,599 500.9,604.5" fill="url(#gR)" stroke="#000" stroke-width="3.1395348837209305" stroke-linejoin="round" /><polygon points="456.3,540.7 462.3,536.8 507.1,562 500.9,566.2" fill="#f4f4f4" stroke="#000" stroke-width="3.1395348837209305" stroke-linejoin="round" /><polygon points="456.3,540.7 500.9,566.2 500.9,604.5 456.3,579.3" fill="url(#gBez)" stroke="#000" stroke-width="3.1395348837209305" stroke-linejoin="round" /><polygon points="460,545.5 497.7,567.5 497.7,600.5 460,579.3" fill="#d6d6d6" stroke="#333" stroke-width="1.7267441860465118" stroke-linejoin="round" /><polygon points="461.5,547.8 496.1,568.3 496.1,598.2 461.5,578.5" fill="url(#gScr)" stroke="#444" stroke-width="1.5697674418604652" stroke-linejoin="round" /></g><g transform="translate(825.6,198.4) scale(0.43) translate(-455.4,-536.8)"><ellipse cx="506.3" cy="605.2" rx="14.5" ry="9" fill="#d4d4d4" stroke="none" stroke-width="0" transform="rotate(28 506.3 605.2)" /><polygon points="463.9,593.4 497.7,613.1 515.8,602.1 515.8,604.5 497.7,615.5 463.9,595.8" fill="#bdbdbd" stroke="#000" stroke-width="3.1395348837209305" stroke-linejoin="round" /><polygon points="463.9,593.4 497.7,613.1 515.8,602.1 482,582.4" fill="#fbfbfb" stroke="#000" stroke-width="3.1395348837209305" stroke-linejoin="round" /><polygon points="500.9,566.2 507.1,562 507.1,599 500.9,604.5" fill="url(#gR)" stroke="#000" stroke-width="3.1395348837209305" stroke-linejoin="round" /><polygon points="456.3,540.7 462.3,536.8 507.1,562 500.9,566.2" fill="#f4f4f4" stroke="#000" stroke-width="3.1395348837209305" stroke-linejoin="round" /><polygon points="456.3,540.7 500.9,566.2 500.9,604.5 456.3,579.3" fill="url(#gBez)" stroke="#000" stroke-width="3.1395348837209305" stroke-linejoin="round" /><polygon points="460,545.5 497.7,567.5 497.7,600.5 460,579.3" fill="#d6d6d6" stroke="#333" stroke-width="1.7267441860465118" stroke-linejoin="round" /><polygon points="461.5,547.8 496.1,568.3 496.1,598.2 461.5,578.5" fill="url(#gScr)" stroke="#444" stroke-width="1.5697674418604652" stroke-linejoin="round" /></g><g transform="translate(714.7,189) scale(0.45) translate(-282.6,-516.4)"><ellipse cx="348" cy="577.5" rx="17" ry="13.5" fill="#d2d2d2" stroke="none" stroke-width="0" transform="rotate(-20 348 577.5)" /><path d="M282.6,562.9 L283.3,567.3 Q300,582 323.8,591.9 L350.5,576.8 L350.5,572.1 L323.8,586.6 Z" fill="#c4c4c4" stroke="#000" stroke-width="3.1" stroke-linejoin="round"/><polygon points="308.5,549.2 282.6,562.9 323.8,586.6 350.5,572.1" fill="#e4e4e4" stroke="#000" stroke-width="3.1111111111111107" stroke-linejoin="round" /><polygon points="309,552.3 312.6,554.3 309,556.2 305.4,554.2" fill="#ffffff" stroke="#b4b4b4" stroke-width="0.45" stroke-linejoin="round" /><polygon points="313.7,554.8 317.3,556.8 313.7,558.7 310,556.8" fill="#ffffff" stroke="#b4b4b4" stroke-width="0.45" stroke-linejoin="round" /><polygon points="318.3,557.4 322,559.4 318.4,561.3 314.7,559.3" fill="#ffffff" stroke="#b4b4b4" stroke-width="0.45" stroke-linejoin="round" /><polygon points="323,559.9 326.6,561.9 323,563.8 319.4,561.8" fill="#ffffff" stroke="#b4b4b4" stroke-width="0.45" stroke-linejoin="round" /><polygon points="327.7,562.5 331.3,564.5 327.7,566.4 324,564.4" fill="#ffffff" stroke="#b4b4b4" stroke-width="0.45" stroke-linejoin="round" /><polygon points="332.3,565 336,567 332.4,568.9 328.7,566.9" fill="#ffffff" stroke="#b4b4b4" stroke-width="0.45" stroke-linejoin="round" /><polygon points="337,567.6 340.6,569.6 337,571.5 333.4,569.5" fill="#ffffff" stroke="#b4b4b4" stroke-width="0.45" stroke-linejoin="round" /><polygon points="341.7,570.1 345.3,572.1 341.7,574 338,572" fill="#ffffff" stroke="#b4b4b4" stroke-width="0.45" stroke-linejoin="round" /><polygon points="304.4,554.7 308,556.7 304.4,558.6 300.8,556.7" fill="#ffffff" stroke="#b4b4b4" stroke-width="0.45" stroke-linejoin="round" /><polygon points="309,557.3 312.7,559.3 309.1,561.2 305.4,559.2" fill="#ffffff" stroke="#b4b4b4" stroke-width="0.45" stroke-linejoin="round" /><polygon points="313.7,559.8 317.3,561.8 313.7,563.7 310.1,561.7" fill="#ffffff" stroke="#b4b4b4" stroke-width="0.45" stroke-linejoin="round" /><polygon points="318.4,562.4 322,564.4 318.4,566.3 314.8,564.3" fill="#ffffff" stroke="#b4b4b4" stroke-width="0.45" stroke-linejoin="round" /><polygon points="323,564.9 326.7,566.9 323.1,568.8 319.4,566.8" fill="#ffffff" stroke="#b4b4b4" stroke-width="0.45" stroke-linejoin="round" /><polygon points="327.7,567.5 331.3,569.5 327.7,571.4 324.1,569.4" fill="#ffffff" stroke="#b4b4b4" stroke-width="0.45" stroke-linejoin="round" /><polygon points="332.4,570 336,572 332.4,573.9 328.8,571.9" fill="#ffffff" stroke="#b4b4b4" stroke-width="0.45" stroke-linejoin="round" /><polygon points="337,572.6 340.7,574.5 337.1,576.5 333.4,574.5" fill="#ffffff" stroke="#b4b4b4" stroke-width="0.45" stroke-linejoin="round" /><polygon points="299.7,557.2 303.4,559.2 299.8,561.1 296.1,559.1" fill="#ffffff" stroke="#b4b4b4" stroke-width="0.45" stroke-linejoin="round" /><polygon points="304.4,559.7 308,561.7 304.4,563.6 300.8,561.6" fill="#ffffff" stroke="#b4b4b4" stroke-width="0.45" stroke-linejoin="round" /><polygon points="309.1,562.3 312.7,564.3 309.1,566.2 305.5,564.2" fill="#ffffff" stroke="#b4b4b4" stroke-width="0.45" stroke-linejoin="round" /><polygon points="313.7,564.8 317.4,566.8 313.8,568.7 310.1,566.7" fill="#ffffff" stroke="#b4b4b4" stroke-width="0.45" stroke-linejoin="round" /><polygon points="318.4,567.4 322,569.4 318.4,571.3 314.8,569.3" fill="#ffffff" stroke="#b4b4b4" stroke-width="0.45" stroke-linejoin="round" /><polygon points="323.1,569.9 326.7,571.9 323.1,573.8 319.5,571.8" fill="#ffffff" stroke="#b4b4b4" stroke-width="0.45" stroke-linejoin="round" /><polygon points="327.7,572.5 331.4,574.4 327.8,576.4 324.1,574.4" fill="#ffffff" stroke="#b4b4b4" stroke-width="0.45" stroke-linejoin="round" /><polygon points="332.4,575 336,577 332.4,578.9 328.8,576.9" fill="#ffffff" stroke="#b4b4b4" stroke-width="0.45" stroke-linejoin="round" /><polygon points="295.1,559.6 298.8,561.6 295.1,563.5 291.5,561.5" fill="#ffffff" stroke="#b4b4b4" stroke-width="0.45" stroke-linejoin="round" /><polygon points="299.8,562.2 303.4,564.2 299.8,566.1 296.2,564.1" fill="#ffffff" stroke="#b4b4b4" stroke-width="0.45" stroke-linejoin="round" /><polygon points="304.4,564.7 308.1,566.7 304.5,568.6 300.8,566.6" fill="#ffffff" stroke="#b4b4b4" stroke-width="0.45" stroke-linejoin="round" /><polygon points="309.1,567.3 312.8,569.3 309.1,571.2 305.5,569.2" fill="#ffffff" stroke="#b4b4b4" stroke-width="0.45" stroke-linejoin="round" /><polygon points="313.8,569.8 317.4,571.8 313.8,573.7 310.2,571.7" fill="#ffffff" stroke="#b4b4b4" stroke-width="0.45" stroke-linejoin="round" /><polygon points="318.4,572.4 322.1,574.3 318.5,576.3 314.8,574.3" fill="#ffffff" stroke="#b4b4b4" stroke-width="0.45" stroke-linejoin="round" /><polygon points="361.1,539.3 362.6,540.3 352,573 350.5,572.1" fill="#999" stroke="#000" stroke-width="2.488888888888889" stroke-linejoin="round" /><polygon points="318.1,516.4 361.1,539.3 350.5,572.1 308.5,549.2" fill="#d0d0d0" stroke="#000" stroke-width="3.1111111111111107" stroke-linejoin="round" /><polygon points="320,521 355.8,540.4 346.6,566.7 312.3,546.9" fill="url(#gScr)" stroke="#222" stroke-width="2.177777777777777" stroke-linejoin="round" /></g><g transform="translate(755.6,166.2) scale(0.46) translate(-376.9,-464.6)"><ellipse cx="384.5" cy="500.5" rx="3.6" ry="5.2" fill="#cfcfcf" stroke="none" stroke-width="1" /><polyline points="376.9,464.6 376.9,481" fill="none" stroke="#000" stroke-width="2.3478260869565215" /><path d="M373.6,481.2 Q376.9,479 380.3,481.2 L383.9,502.6 Q377,507.8 370.4,502.6 Z" fill="url(#gCone)" stroke="#000" stroke-width="2.6" stroke-linejoin="round"/></g><path d="M753.6,166.6 A2.6,3 0 0 1 753.6,163.8 M758.8,166.6 A2.6,3 0 0 0 758.8,163.8" stroke="#777" stroke-width="0.6" fill="none"/><path d="M736.4,191.7L752.5,180.8L741.6,177.2L757.2,165.4" class="blue" style="stroke-width:2.4"/></g>
<g transform="translate(4,179.7)"><path d="M776,169V188 M805.8,173V188 M805.8,197V204 M852.2,181V188 M836.5,197V201" stroke="#1c1a55" stroke-width="2.1" fill="none"/><path d="M755.6,166.5V174.4H784.6" stroke="#000" stroke-width="2.2" fill="none"/><ellipse cx="787" cy="172.5" rx="4" ry="3" fill="#d6d6d6" stroke="none" stroke-width="1" /><polygon points="762.3,159.2 784.4,173 784.4,176.2 762.3,162.4" fill="url(#gL)" stroke="#000" stroke-width="1.4" stroke-linejoin="round" /><polygon points="784.4,173 789.7,168.1 789.7,171.3 784.4,176.2" fill="url(#gR)" stroke="#000" stroke-width="1.4" stroke-linejoin="round" /><polygon points="768.3,154.3 762.3,159.2 784.4,173 789.7,168.1" fill="url(#gTop)" stroke="#000" stroke-width="1.4" stroke-linejoin="round" /><polyline points="764.6,161.6 764.6,163.2" fill="none" stroke="#999" stroke-width="0.6" /><polyline points="766.3,162.8 766.3,164.3" fill="none" stroke="#999" stroke-width="0.6" /><polyline points="768,163.9 768,165.5" fill="none" stroke="#999" stroke-width="0.6" /><polyline points="769.7,165 769.7,166.6" fill="none" stroke="#999" stroke-width="0.6" /><polyline points="771.4,166.2 771.4,167.8" fill="none" stroke="#999" stroke-width="0.6" /><path d="M779.1,188.3 H864.8 A2.5,4.2 0 0 1 864.8,196.8 H779.1 A2.5,4.2 0 0 1 779.1,188.3 Z" fill="#fff" stroke="none"/><rect x="779.4" y="188.3" width="85.4" height="8.4" fill="url(#gBus)"/><ellipse cx="864.8" cy="192.6" rx="2.5" ry="4.2" fill="#1c1a55" stroke="none" stroke-width="1" /><ellipse cx="864.4" cy="192.6" rx="0.9" ry="2.5" fill="#8ea6d0" stroke="none" stroke-width="1" /><path d="M779.1,188.3 H864.8 A2.5,4.2 0 0 1 864.8,196.8 H779.1 A2.5,4.2 0 0 1 779.1,188.3 Z" fill="none" stroke="#05050f" stroke-width="2.5"/><g transform="translate(796.7,154.1) scale(0.425) translate(-469.9,-435)"><ellipse cx="509" cy="472" rx="10" ry="8" fill="#d0d0d0" stroke="none" stroke-width="0" transform="rotate(-20 509 472)" /><polygon points="497.6,458.7 511.1,466.6 511.1,469.6 488.1,482.3 488.1,475.6" fill="url(#gR)" stroke="#000" stroke-width="3.1764705882352944" stroke-linejoin="round" /><polygon points="470.7,466 488.1,475.6 488.1,482.3 470.7,471.6" fill="#c8c8c8" stroke="#000" stroke-width="3.1764705882352944" stroke-linejoin="round" /><polygon points="480.8,449.2 497.6,458.7 488.1,475.6 470.7,466" fill="url(#gPhone)" stroke="#000" stroke-width="3.1764705882352944" stroke-linejoin="round" /><polygon points="481.2,454.3 483.4,455.6 482.4,457.4 480.2,456.2" fill="#fff" stroke="none" stroke-width="0" stroke-linejoin="round" /><polygon points="484.8,456.4 487,457.6 486,459.5 483.8,458.2" fill="#fff" stroke="none" stroke-width="0" stroke-linejoin="round" /><polygon points="488.4,458.4 490.6,459.7 489.6,461.5 487.4,460.3" fill="#fff" stroke="none" stroke-width="0" stroke-linejoin="round" /><polygon points="479.4,457.5 481.6,458.8 480.6,460.6 478.4,459.4" fill="#fff" stroke="none" stroke-width="0" stroke-linejoin="round" /><polygon points="483.1,459.6 485.2,460.8 484.2,462.7 482.1,461.4" fill="#fff" stroke="none" stroke-width="0" stroke-linejoin="round" /><polygon points="486.6,461.6 488.8,462.9 487.8,464.7 485.6,463.5" fill="#fff" stroke="none" stroke-width="0" stroke-linejoin="round" /><polygon points="477.7,460.7 479.9,461.9 478.9,463.8 476.7,462.6" fill="#fff" stroke="none" stroke-width="0" stroke-linejoin="round" /><polygon points="481.3,462.8 483.5,464 482.5,465.9 480.3,464.6" fill="#fff" stroke="none" stroke-width="0" stroke-linejoin="round" /><polygon points="484.9,464.8 487.1,466.1 486.1,467.9 483.9,466.7" fill="#fff" stroke="none" stroke-width="0" stroke-linejoin="round" /><polygon points="475.9,463.9 478.1,465.2 477.1,467 474.9,465.8" fill="#fff" stroke="none" stroke-width="0" stroke-linejoin="round" /><polygon points="479.6,466 481.8,467.2 480.8,469.1 478.6,467.8" fill="#fff" stroke="none" stroke-width="0" stroke-linejoin="round" /><polygon points="483.1,468 485.3,469.3 484.3,471.1 482.1,469.9" fill="#fff" stroke="none" stroke-width="0" stroke-linejoin="round" /><path d="M483,449 L485.5,446.5 L488,448 L487,451.5 M491.5,453.8 L493.8,451.2 L496.5,452.8 L495.8,456.5" fill="none" stroke="#000" stroke-width="2.5"/><path d="M473.3,445.6 Q472.6,437 483,435.7 L512.8,453.7 Q519.8,458.5 516.9,464.3 Q514.5,467.6 510.8,466.5 L505,464.6 Q505.4,459.4 501.6,456.7 L485.3,447 Q480,443.2 476.9,445.4 L475.2,448.3 Z" fill="url(#gHand)" stroke="#000" stroke-width="3.5" stroke-linejoin="round"/><path d="M475.3,443.6 Q476,439.5 482.8,439.2 L510.8,456.1 Q514.6,459 513.8,462.6" fill="none" stroke="#8a8a8a" stroke-width="1.7"/></g><g transform="translate(835,154.1) scale(0.445) translate(-557,-435.4)"><ellipse cx="609" cy="489" rx="12" ry="7.5" fill="#d0d0d0" stroke="none" stroke-width="0" transform="rotate(-15 609 489)" /><polygon points="563.5,474.4 570.6,470.6 571.2,480" fill="#d8d8d8" stroke="#000" stroke-width="2.9213483146067416" stroke-linejoin="round" /><polygon points="571.2,459 593.6,471.2 593.6,497.5 580,491 573,486.5 571.2,484" fill="url(#gPrL)" stroke="#000" stroke-width="2.9213483146067416" stroke-linejoin="round" /><polygon points="593.6,471.2 617.4,457.1 617.4,482.8 593.6,497.5" fill="url(#gPrR)" stroke="#000" stroke-width="2.9213483146067416" stroke-linejoin="round" /><polygon points="571.2,459 596.9,445.5 617.4,457.1 593.6,471.2" fill="url(#gTop)" stroke="#000" stroke-width="2.9213483146067416" stroke-linejoin="round" /><polygon points="573,463.5 580,467.2 580,471.2 573,467.5" fill="#e6e6e6" stroke="#444" stroke-width="1.752808988764045" stroke-linejoin="round" /><polyline points="571.2,462.5 593.6,474.7" fill="none" stroke="#666" stroke-width="1.4606741573033708" /><polygon points="585.3,453.9 595.6,448.7 610.3,457.7 601.3,463.5" fill="#b9b9b9" stroke="#333" stroke-width="2.044943820224719" stroke-linejoin="round" /><polygon points="589.5,454.2 596.5,450.6 607.5,457.5 601.3,461.5" fill="#dedede" stroke="#555" stroke-width="1.4606741573033708" stroke-linejoin="round" /><polygon points="597.5,447.5 605.8,435.3 620.6,444.3 611.6,457.1" fill="#fff" stroke="#000" stroke-width="3.213483146067416" stroke-linejoin="round" /><ellipse cx="591.1" cy="467.4" rx="2.4" ry="1.5" fill="#63b08c" stroke="#3c7a5c" stroke-width="0.5" /><polygon points="580.5,485.6 591.2,479.4 591.2,487.2 584,490.2" fill="#bdbdbd" stroke="#000" stroke-width="2.6292134831460676" stroke-linejoin="round" /><polygon points="557.7,480.2 575,471.9 589.8,478.9 573.7,488.5" fill="#fff" stroke="#000" stroke-width="3.213483146067416" stroke-linejoin="round" /></g><g transform="translate(790.7,198.4) scale(0.43) translate(-455.4,-536.8)"><ellipse cx="506.3" cy="605.2" rx="14.5" ry="9" fill="#d4d4d4" stroke="none" stroke-width="0" transform="rotate(28 506.3 605.2)" /><polygon points="463.9,593.4 497.7,613.1 515.8,602.1 515.8,604.5 497.7,615.5 463.9,595.8" fill="#bdbdbd" stroke="#000" stroke-width="3.1395348837209305" stroke-linejoin="round" /><polygon points="463.9,593.4 497.7,613.1 515.8,602.1 482,582.4" fill="#fbfbfb" stroke="#000" stroke-width="3.1395348837209305" stroke-linejoin="round" /><polygon points="500.9,566.2 507.1,562 507.1,599 500.9,604.5" fill="url(#gR)" stroke="#000" stroke-width="3.1395348837209305" stroke-linejoin="round" /><polygon points="456.3,540.7 462.3,536.8 507.1,562 500.9,566.2" fill="#f4f4f4" stroke="#000" stroke-width="3.1395348837209305" stroke-linejoin="round" /><polygon points="456.3,540.7 500.9,566.2 500.9,604.5 456.3,579.3" fill="url(#gBez)" stroke="#000" stroke-width="3.1395348837209305" stroke-linejoin="round" /><polygon points="460,545.5 497.7,567.5 497.7,600.5 460,579.3" fill="#d6d6d6" stroke="#333" stroke-width="1.7267441860465118" stroke-linejoin="round" /><polygon points="461.5,547.8 496.1,568.3 496.1,598.2 461.5,578.5" fill="url(#gScr)" stroke="#444" stroke-width="1.5697674418604652" stroke-linejoin="round" /></g><g transform="translate(825.6,198.4) scale(0.43) translate(-455.4,-536.8)"><ellipse cx="506.3" cy="605.2" rx="14.5" ry="9" fill="#d4d4d4" stroke="none" stroke-width="0" transform="rotate(28 506.3 605.2)" /><polygon points="463.9,593.4 497.7,613.1 515.8,602.1 515.8,604.5 497.7,615.5 463.9,595.8" fill="#bdbdbd" stroke="#000" stroke-width="3.1395348837209305" stroke-linejoin="round" /><polygon points="463.9,593.4 497.7,613.1 515.8,602.1 482,582.4" fill="#fbfbfb" stroke="#000" stroke-width="3.1395348837209305" stroke-linejoin="round" /><polygon points="500.9,566.2 507.1,562 507.1,599 500.9,604.5" fill="url(#gR)" stroke="#000" stroke-width="3.1395348837209305" stroke-linejoin="round" /><polygon points="456.3,540.7 462.3,536.8 507.1,562 500.9,566.2" fill="#f4f4f4" stroke="#000" stroke-width="3.1395348837209305" stroke-linejoin="round" /><polygon points="456.3,540.7 500.9,566.2 500.9,604.5 456.3,579.3" fill="url(#gBez)" stroke="#000" stroke-width="3.1395348837209305" stroke-linejoin="round" /><polygon points="460,545.5 497.7,567.5 497.7,600.5 460,579.3" fill="#d6d6d6" stroke="#333" stroke-width="1.7267441860465118" stroke-linejoin="round" /><polygon points="461.5,547.8 496.1,568.3 496.1,598.2 461.5,578.5" fill="url(#gScr)" stroke="#444" stroke-width="1.5697674418604652" stroke-linejoin="round" /></g><g transform="translate(714.7,189) scale(0.45) translate(-282.6,-516.4)"><ellipse cx="348" cy="577.5" rx="17" ry="13.5" fill="#d2d2d2" stroke="none" stroke-width="0" transform="rotate(-20 348 577.5)" /><path d="M282.6,562.9 L283.3,567.3 Q300,582 323.8,591.9 L350.5,576.8 L350.5,572.1 L323.8,586.6 Z" fill="#c4c4c4" stroke="#000" stroke-width="3.1" stroke-linejoin="round"/><polygon points="308.5,549.2 282.6,562.9 323.8,586.6 350.5,572.1" fill="#e4e4e4" stroke="#000" stroke-width="3.1111111111111107" stroke-linejoin="round" /><polygon points="309,552.3 312.6,554.3 309,556.2 305.4,554.2" fill="#ffffff" stroke="#b4b4b4" stroke-width="0.45" stroke-linejoin="round" /><polygon points="313.7,554.8 317.3,556.8 313.7,558.7 310,556.8" fill="#ffffff" stroke="#b4b4b4" stroke-width="0.45" stroke-linejoin="round" /><polygon points="318.3,557.4 322,559.4 318.4,561.3 314.7,559.3" fill="#ffffff" stroke="#b4b4b4" stroke-width="0.45" stroke-linejoin="round" /><polygon points="323,559.9 326.6,561.9 323,563.8 319.4,561.8" fill="#ffffff" stroke="#b4b4b4" stroke-width="0.45" stroke-linejoin="round" /><polygon points="327.7,562.5 331.3,564.5 327.7,566.4 324,564.4" fill="#ffffff" stroke="#b4b4b4" stroke-width="0.45" stroke-linejoin="round" /><polygon points="332.3,565 336,567 332.4,568.9 328.7,566.9" fill="#ffffff" stroke="#b4b4b4" stroke-width="0.45" stroke-linejoin="round" /><polygon points="337,567.6 340.6,569.6 337,571.5 333.4,569.5" fill="#ffffff" stroke="#b4b4b4" stroke-width="0.45" stroke-linejoin="round" /><polygon points="341.7,570.1 345.3,572.1 341.7,574 338,572" fill="#ffffff" stroke="#b4b4b4" stroke-width="0.45" stroke-linejoin="round" /><polygon points="304.4,554.7 308,556.7 304.4,558.6 300.8,556.7" fill="#ffffff" stroke="#b4b4b4" stroke-width="0.45" stroke-linejoin="round" /><polygon points="309,557.3 312.7,559.3 309.1,561.2 305.4,559.2" fill="#ffffff" stroke="#b4b4b4" stroke-width="0.45" stroke-linejoin="round" /><polygon points="313.7,559.8 317.3,561.8 313.7,563.7 310.1,561.7" fill="#ffffff" stroke="#b4b4b4" stroke-width="0.45" stroke-linejoin="round" /><polygon points="318.4,562.4 322,564.4 318.4,566.3 314.8,564.3" fill="#ffffff" stroke="#b4b4b4" stroke-width="0.45" stroke-linejoin="round" /><polygon points="323,564.9 326.7,566.9 323.1,568.8 319.4,566.8" fill="#ffffff" stroke="#b4b4b4" stroke-width="0.45" stroke-linejoin="round" /><polygon points="327.7,567.5 331.3,569.5 327.7,571.4 324.1,569.4" fill="#ffffff" stroke="#b4b4b4" stroke-width="0.45" stroke-linejoin="round" /><polygon points="332.4,570 336,572 332.4,573.9 328.8,571.9" fill="#ffffff" stroke="#b4b4b4" stroke-width="0.45" stroke-linejoin="round" /><polygon points="337,572.6 340.7,574.5 337.1,576.5 333.4,574.5" fill="#ffffff" stroke="#b4b4b4" stroke-width="0.45" stroke-linejoin="round" /><polygon points="299.7,557.2 303.4,559.2 299.8,561.1 296.1,559.1" fill="#ffffff" stroke="#b4b4b4" stroke-width="0.45" stroke-linejoin="round" /><polygon points="304.4,559.7 308,561.7 304.4,563.6 300.8,561.6" fill="#ffffff" stroke="#b4b4b4" stroke-width="0.45" stroke-linejoin="round" /><polygon points="309.1,562.3 312.7,564.3 309.1,566.2 305.5,564.2" fill="#ffffff" stroke="#b4b4b4" stroke-width="0.45" stroke-linejoin="round" /><polygon points="313.7,564.8 317.4,566.8 313.8,568.7 310.1,566.7" fill="#ffffff" stroke="#b4b4b4" stroke-width="0.45" stroke-linejoin="round" /><polygon points="318.4,567.4 322,569.4 318.4,571.3 314.8,569.3" fill="#ffffff" stroke="#b4b4b4" stroke-width="0.45" stroke-linejoin="round" /><polygon points="323.1,569.9 326.7,571.9 323.1,573.8 319.5,571.8" fill="#ffffff" stroke="#b4b4b4" stroke-width="0.45" stroke-linejoin="round" /><polygon points="327.7,572.5 331.4,574.4 327.8,576.4 324.1,574.4" fill="#ffffff" stroke="#b4b4b4" stroke-width="0.45" stroke-linejoin="round" /><polygon points="332.4,575 336,577 332.4,578.9 328.8,576.9" fill="#ffffff" stroke="#b4b4b4" stroke-width="0.45" stroke-linejoin="round" /><polygon points="295.1,559.6 298.8,561.6 295.1,563.5 291.5,561.5" fill="#ffffff" stroke="#b4b4b4" stroke-width="0.45" stroke-linejoin="round" /><polygon points="299.8,562.2 303.4,564.2 299.8,566.1 296.2,564.1" fill="#ffffff" stroke="#b4b4b4" stroke-width="0.45" stroke-linejoin="round" /><polygon points="304.4,564.7 308.1,566.7 304.5,568.6 300.8,566.6" fill="#ffffff" stroke="#b4b4b4" stroke-width="0.45" stroke-linejoin="round" /><polygon points="309.1,567.3 312.8,569.3 309.1,571.2 305.5,569.2" fill="#ffffff" stroke="#b4b4b4" stroke-width="0.45" stroke-linejoin="round" /><polygon points="313.8,569.8 317.4,571.8 313.8,573.7 310.2,571.7" fill="#ffffff" stroke="#b4b4b4" stroke-width="0.45" stroke-linejoin="round" /><polygon points="318.4,572.4 322.1,574.3 318.5,576.3 314.8,574.3" fill="#ffffff" stroke="#b4b4b4" stroke-width="0.45" stroke-linejoin="round" /><polygon points="361.1,539.3 362.6,540.3 352,573 350.5,572.1" fill="#999" stroke="#000" stroke-width="2.488888888888889" stroke-linejoin="round" /><polygon points="318.1,516.4 361.1,539.3 350.5,572.1 308.5,549.2" fill="#d0d0d0" stroke="#000" stroke-width="3.1111111111111107" stroke-linejoin="round" /><polygon points="320,521 355.8,540.4 346.6,566.7 312.3,546.9" fill="url(#gScr)" stroke="#222" stroke-width="2.177777777777777" stroke-linejoin="round" /></g><g transform="translate(755.6,166.2) scale(0.46) translate(-376.9,-464.6)"><ellipse cx="384.5" cy="500.5" rx="3.6" ry="5.2" fill="#cfcfcf" stroke="none" stroke-width="1" /><polyline points="376.9,464.6 376.9,481" fill="none" stroke="#000" stroke-width="2.3478260869565215" /><path d="M373.6,481.2 Q376.9,479 380.3,481.2 L383.9,502.6 Q377,507.8 370.4,502.6 Z" fill="url(#gCone)" stroke="#000" stroke-width="2.6" stroke-linejoin="round"/></g><path d="M753.6,166.6 A2.6,3 0 0 1 753.6,163.8 M758.8,166.6 A2.6,3 0 0 0 758.8,163.8" stroke="#777" stroke-width="0.6" fill="none"/><path d="M736.4,191.7L752.5,180.8L741.6,177.2L757.2,165.4" class="blue" style="stroke-width:2.4"/></g>
<ellipse cx="384.5" cy="500.5" rx="3.6" ry="5.2" fill="#cfcfcf" stroke="none" stroke-width="1" /><polyline points="376.9,464.6 376.9,481" fill="none" stroke="#000" stroke-width="1.26" /><path d="M373.6,481.2 Q376.9,479 380.3,481.2 L383.9,502.6 Q377,507.8 370.4,502.6 Z" fill="url(#gCone)" stroke="#000" stroke-width="1.4" stroke-linejoin="round"/><path d="M380.4,461.4 A4.4,5.5 0 0 1 380.4,468.3" fill="none" stroke="#3a3a3a" stroke-width="0.9"/><path d="M373.4,461.4 A4.4,5.5 0 0 0 373.4,468.3" fill="none" stroke="#3a3a3a" stroke-width="0.9"/><path d="M382.6,459.7 A7.2,9 0 0 1 382.6,470" fill="none" stroke="#3a3a3a" stroke-width="0.9"/><path d="M371.2,459.7 A7.2,9 0 0 0 371.2,470" fill="none" stroke="#3a3a3a" stroke-width="0.9"/>
<polygon points="215,105 187.4,209.8 176.1,198.8 149,289 175.3,184.9 186,196" fill="url(#gBeam)" stroke="#adad62" stroke-width="0.55" stroke-linejoin="round" fill-opacity="0.92"/>
<polygon points="224,98 288.2,196.5 273.3,198.2 346,297 284.8,205.5 300.6,204.4" fill="url(#gBeam)" stroke="#adad62" stroke-width="0.55" stroke-linejoin="round" fill-opacity="0.92"/>
<path class="red" d="M414.2,465L377,482.3"/>
<!-- numbered circles -->
<g fill="#14047a">
<circle cx="12.5" cy="440.3" r="12.2"/>
<circle cx="20.5" cy="315.3" r="12.2"/>
<circle cx="184" cy="292.8" r="12.2"/>
<circle cx="388" cy="348.4" r="12.2"/>
<circle cx="458.6" cy="433.4" r="12.2"/>
<circle cx="684" cy="230.5" r="12.2"/>
</g>
<g class="num">
<text transform="translate(12.5,447.8) scale(0.86,1)">1</text>
<text transform="translate(20.5,322.8) scale(0.86,1)">2</text>
<text transform="translate(184,300.3) scale(0.86,1)">3</text>
<text transform="translate(388,355.9) scale(0.86,1)">4</text>
<text transform="translate(458.6,440.9) scale(0.86,1)">5</text>
<text transform="translate(684,238.0) scale(0.86,1)">6</text>
</g>
<!-- labels -->
<g class="lb">
<text x="280.7" y="83.3">Communications</text><text x="280.7" y="94.1">Satellite</text>
<text x="173.2" y="339.8">Earth</text><text x="173.3" y="349.9">Station</text>
<text x="117.4" y="389.7">Network</text><text x="117.4" y="400.4">Operations</text><text x="117.4" y="410.6">Center</text>
<text x="161" y="457.7">Egress onto</text><text x="160.8" y="468.6">Internet</text>
<text x="267.3" y="363.8">Modem/</text><text x="267.3" y="374.3">Router</text>
<text x="298.3" y="401.5">Bandwidth</text><text x="298.5" y="412.6">Management</text>
<text x="423.5" y="209.8">Tower and</text><text x="423.4" y="220.1">Wireless Access</text><text x="423.6" y="230.8">Point</text>
<text x="636" y="169.6">Tower and</text><text x="636" y="179.9">Customer</text><text x="636" y="190.2">Premises</text><text x="636" y="200.1">Equipment</text>
<text x="829.5" y="242.8">Client Site</text><text x="829.7" y="252.8">Network</text>
<text x="382.5" y="518.7">Local Wireless</text><text x="382.5" y="528.4">Access Point</text>
</g>
<g class="ls">
<text x="73" y="353.9">Server</text>
<text x="365.1" y="266.8">VSAT</text>
<text x="451.8" y="407.7">Server</text>
<text x="363.9" y="445.7">Switch</text>
<text x="494.2" y="438.9">VoIP Phone</text>
<text x="623.8" y="476.6">Printer</text>
<text x="521.3" y="570.6">Computers</text>
<text x="227" y="538.7">PDA</text>
<text x="260" y="585.5">Laptop</text>
</g>
<text x="100.1" y="542.7" font-weight="bold" font-size="13.1" fill="#fff" text-anchor="middle">INTERNET</text>
<text x="673" y="571.8" font-size="13.24" fill="#000">© Copyright DRASTIC LLC, 2006</text>
</svg>
</body></html>
